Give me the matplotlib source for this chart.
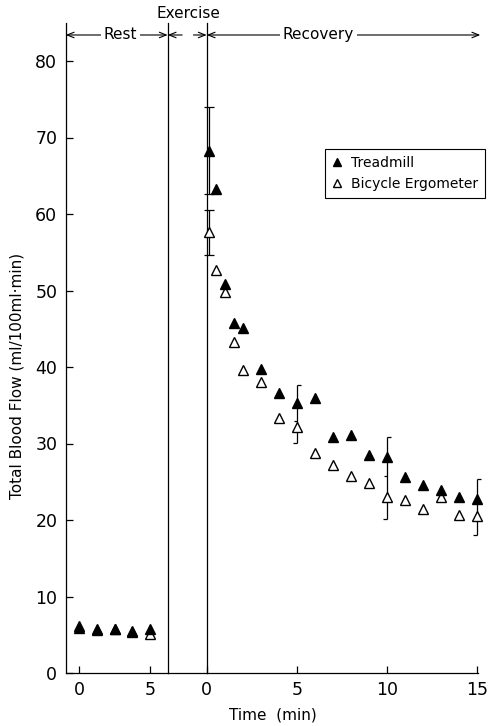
import numpy as np
import matplotlib
matplotlib.use("Agg")
import matplotlib.pyplot as plt

plt.rcParams.update({
    "font.family": "DejaVu Sans",
    "font.size": 11,
    "axes.linewidth": 0.9,
})

# ── data ──────────────────────────────────────────────────────────────────
rest_t = [0, 1.25, 2.5, 3.75, 5]
rest_tread = [5.9, 5.8, 5.7, 5.5, 5.8]
rest_bike = [6.2, 5.6, 5.7, 5.4, 5.1]

rec_t = [0.15, 0.5, 1, 1.5, 2, 3, 4, 5, 6, 7, 8, 9, 10, 11, 12, 13, 14, 15]
rec_tread = [68.3, 63.3, 50.8, 45.8, 45.1, 39.7, 36.6, 35.3, 35.9, 30.8,
             31.1, 28.5, 28.3, 25.6, 24.6, 23.9, 23.0, 22.8]
rec_bike = [57.6, 52.7, 49.8, 43.3, 39.6, 38.1, 33.3, 32.2, 28.8, 27.2,
            25.7, 24.9, 23.0, 22.6, 21.5, 23.0, 20.7, 20.5]

# first point: full error bars
first_t = 0.15
first_tread_err = 5.7
first_bike_err = 2.95

# later points: bracket-style error bars
brk_t = [5, 10, 15]
brk_tread = [35.3, 28.3, 22.8]
brk_bike = [32.2, 23.0, 20.5]
brk_tread_err = [2.3, 2.5, 2.5]
brk_bike_err = [2.1, 2.9, 2.5]

yticks = [0, 10, 20, 30, 40, 50, 60, 70, 80]

W, H = 490, 726
fig = plt.figure(figsize=(W / 100, H / 100), dpi=100)

def px_box(x0, x1, y_top=22.75, y_bot=673):
    return [x0 / W, 1 - y_bot / H, (x1 - x0) / W, (y_bot - y_top) / H]

ax_rest = fig.add_axes(px_box(65.7, 167.7))
ax_ex = fig.add_axes(px_box(167.7, 206.7))
ax_rec = fig.add_axes(px_box(206.7, 477.6))

for ax in (ax_rest, ax_ex, ax_rec):
    ax.set_ylim(0, 85)
    ax.patch.set_visible(False)
    ax.spines["top"].set_visible(False)
    ax.tick_params(direction="in", length=5, width=0.9, labelsize=12.5, pad=6)

ax_rest.set_xlim(-0.94, 6.25)
ax_rest.set_xticks([0, 5])
ax_rest.set_yticks(yticks)
ax_rest.spines["right"].set_visible(True)
ax_rest.spines["right"].set_zorder(5)

ax_ex.set_xlim(0, 1)
ax_ex.set_xticks([])
ax_ex.set_yticks([])
for s in ("left", "right"):
    ax_ex.spines[s].set_visible(False)

ax_rec.set_xlim(0, 15.05)
ax_rec.set_xticks([0, 5, 10, 15])
ax_rec.set_yticks([])
ax_rec.spines["right"].set_visible(False)

mk = dict(marker="^", ms=7.5, mew=1.0, ls="none", mec="black")

# rest
ax_rest.plot(rest_t, rest_bike, mfc="white", zorder=3, **mk)
ax_rest.plot(rest_t, rest_tread, mfc="black", zorder=4, **mk)

# recovery
ax_rec.errorbar([first_t], [rec_tread[0]], yerr=[first_tread_err], fmt="none",
                ecolor="black", elinewidth=0.9, capsize=3.6, capthick=0.9,
                zorder=2, clip_on=False)
ax_rec.errorbar([first_t], [rec_bike[0]], yerr=[first_bike_err], fmt="none",
                ecolor="black", elinewidth=0.9, capsize=3.6, capthick=0.9,
                zorder=2, clip_on=False)

cap = 0.22
for t, yt, yb, et, eb in zip(brk_t, brk_tread, brk_bike, brk_tread_err, brk_bike_err):
    top, bot, mid = yt + et, yb - eb, yt - et
    ax_rec.vlines(t, bot, top, color="black", lw=0.9, zorder=2, clip_on=False)
    ax_rec.hlines(top, t, t + cap, color="black", lw=0.9, zorder=2, clip_on=False)
    ax_rec.hlines(bot, t - cap, t, color="black", lw=0.9, zorder=2, clip_on=False)
    ax_rec.hlines(mid, t - cap * 0.8, t, color="black", lw=0.9, zorder=2, clip_on=False)

ax_rec.plot(rec_t, rec_bike, mfc="white", zorder=3, clip_on=False,
            label="Bicycle Ergometer", **mk)
ax_rec.plot(rec_t, rec_tread, mfc="black", zorder=4, clip_on=False,
            label="Treadmill", **mk)

# period arrows
y_arr = 83.4
arr = dict(arrowstyle="<->,head_length=0.45,head_width=0.18", lw=0.8,
           color="black", shrinkA=0, shrinkB=0)
ax_rest.annotate("", xy=(-0.94, y_arr), xytext=(6.25, y_arr),
                 arrowprops=arr, annotation_clip=False)
ax_rest.text(2.9, y_arr, "Rest", ha="center", va="center", fontsize=11,
             bbox=dict(facecolor="white", edgecolor="none", pad=2))
one = dict(arrowstyle="->,head_length=0.45,head_width=0.18", lw=0.8,
           color="black", shrinkA=0, shrinkB=0)
ax_ex.annotate("", xy=(0, y_arr), xytext=(0.37, y_arr), arrowprops=one,
               annotation_clip=False)
ax_ex.annotate("", xy=(1, y_arr), xytext=(0.66, y_arr), arrowprops=one,
               annotation_clip=False)
ax_rec.annotate("", xy=(0, y_arr), xytext=(15.2, y_arr),
                arrowprops=arr, annotation_clip=False)
ax_rec.text(6.2, y_arr, "Recovery", ha="center", va="center", fontsize=11,
            bbox=dict(facecolor="white", edgecolor="none", pad=2))
fig.text(188 / W, 1 - 13 / H, "Exercise", ha="center", va="center", fontsize=11)

ax_rest.set_ylabel("Total Blood Flow (ml/100ml\u00b7min)", fontsize=11)
ax_rest.yaxis.set_label_coords(-0.40, 0.457)
fig.text(273 / W, 1 - 715 / H, "Time  (min)", ha="center", va="center", fontsize=11)

h, l = ax_rec.get_legend_handles_labels()
leg = fig.legend(h[::-1], l[::-1], loc="upper right",
                 bbox_to_anchor=(485 / W, 1 - 149 / H), borderaxespad=0,
                 fontsize=10, markerscale=0.7, handlelength=0.8,
                 handletextpad=0.6, borderpad=0.5, labelspacing=0.5,
                 fancybox=False, framealpha=1, edgecolor="black")
leg.get_frame().set_linewidth(0.8)

fig.savefig("out.png", dpi=100)
